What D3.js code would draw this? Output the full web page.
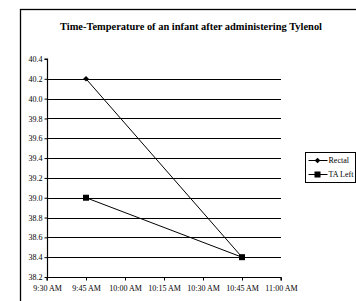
<!DOCTYPE html>
<html>
<head>
<meta charset="utf-8">
<script src="https://cdn.jsdelivr.net/npm/d3@7"></script>
<style>
  html, body { margin: 0; padding: 0; background: #fff; overflow: hidden; }
  svg { display: block; }
  svg text { font-family: 'Liberation Serif', 'Times New Roman', Times, serif; }
</style>
</head>
<body>
<div id="chart"></div>
<script>
// times are minutes after midnight
const times = [585, 645];              // 9:45 AM, 10:45 AM
const rectal = [40.2, 38.4];
const taLeft = [39.0, 38.4];
const seriesNames = ['Rectal', 'TA Left'];
const xTicks = [570, 585, 600, 615, 630, 645, 660];
const yTicks = [38.2, 38.4, 38.6, 38.8, 39.0, 39.2, 39.4, 39.6, 39.8, 40.0, 40.2, 40.4];
const title = 'Time-Temperature of an infant after administering Tylenol';

const W = 356, H = 301;
const plot = { left: 47, right: 281, top: 59, bottom: 277 };

const svg = d3.select('#chart').append('svg')
  .attr('width', W).attr('height', H);

// outer chart frame (cropped on right and bottom)
svg.append('rect')
  .attr('x', 20.5).attr('y', 9.5)
  .attr('width', W + 10).attr('height', H + 10)
  .attr('fill', '#fff').attr('stroke', '#000').attr('stroke-width', 1.3);

svg.append('text')
  .attr('x', 191).attr('y', 30)
  .attr('text-anchor', 'middle')
  .attr('font-size', 10.5).attr('font-weight', 'bold')
  .attr('textLength', 262).attr('lengthAdjust', 'spacingAndGlyphs')
  .text(title);

const x = d3.scaleLinear().domain([570, 660]).range([plot.left, plot.right]);
const y = d3.scaleLinear().domain([38.2, 40.4]).range([plot.bottom, plot.top]);

const fmtTime = (m) => {
  const h = Math.floor(m / 60), mm = m % 60;
  const ap = h >= 12 ? 'PM' : 'AM';
  const h12 = h > 12 ? h - 12 : h;
  return `${h12}:${String(mm).padStart(2, '0')} ${ap}`;
};

// gridlines
svg.append('g')
  .selectAll('line')
  .data(yTicks.filter((t) => t > 38.25 && t < 40.35))
  .join('line')
  .attr('x1', plot.left).attr('x2', plot.right)
  .attr('y1', (d) => Math.round(y(d)) + 0.5).attr('y2', (d) => Math.round(y(d)) + 0.5)
  .attr('stroke', '#000').attr('stroke-width', 1);

// axes
const yAxis = svg.append('g')
  .attr('transform', `translate(${plot.left + 0.5},0)`)
  .call(d3.axisLeft(y).tickValues(yTicks).tickFormat(d3.format('.1f')).tickSize(3).tickPadding(2));
const xAxis = svg.append('g')
  .attr('transform', `translate(0,${plot.bottom + 0.5})`)
  .call(d3.axisBottom(x).tickValues(xTicks).tickFormat(fmtTime).tickSize(3).tickPadding(5));

[yAxis, xAxis].forEach((a) => {
  a.attr('font-family', null);
  a.selectAll('.domain').attr('stroke', '#000').attr('stroke-width', 1.2);
  a.selectAll('.tick line').attr('stroke', '#000');
  a.selectAll('text').attr('font-size', 8).attr('fill', '#000');
});
yAxis.select('.domain').attr('d', `M-3,${y(40.4)}H0V${y(38.2)}H0`);
xAxis.select('.domain').attr('d', `M${x(570)},3V0H${x(660)}V3`);

const line = d3.line().x((d) => x(d[0])).y((d) => y(d[1]));
const series = [
  { name: seriesNames[0], values: d3.zip(times, rectal), marker: 'diamond' },
  { name: seriesNames[1], values: d3.zip(times, taLeft), marker: 'square' },
];

function drawMarker(g, type, cx, cy) {
  if (type === 'diamond') {
    g.append('path')
      .attr('d', 'M0,-2.8L2.8,0L0,2.8L-2.8,0Z')
      .attr('transform', `translate(${cx},${cy})`).attr('fill', '#000');
  } else {
    g.append('rect')
      .attr('x', cx - 3).attr('y', cy - 3).attr('width', 6).attr('height', 6)
      .attr('fill', '#000');
  }
}

const marks = svg.append('g');
series.forEach((s) => {
  marks.append('path').datum(s.values)
    .attr('d', line).attr('fill', 'none').attr('stroke', '#000').attr('stroke-width', 1);
});
series.forEach((s) => {
  s.values.forEach((v) => drawMarker(marks, s.marker, x(v[0]), y(v[1])));
});

// legend
const leg = svg.append('g').attr('transform', 'translate(305.5,152.5)');
leg.append('rect').attr('width', 50).attr('height', 30)
  .attr('fill', '#fff').attr('stroke', '#000').attr('stroke-width', 1);
series.forEach((s, i) => {
  const ly = 8 + i * 14;
  leg.append('line').attr('x1', 3).attr('x2', 22).attr('y1', ly).attr('y2', ly)
    .attr('stroke', '#000').attr('stroke-width', 1);
  drawMarker(leg, s.marker, 12, ly);
  leg.append('text').attr('x', 23).attr('y', ly + 2.5)
    .attr('font-size', 8).attr('fill', '#000').text(s.name);
});
</script>
</body>
</html>
